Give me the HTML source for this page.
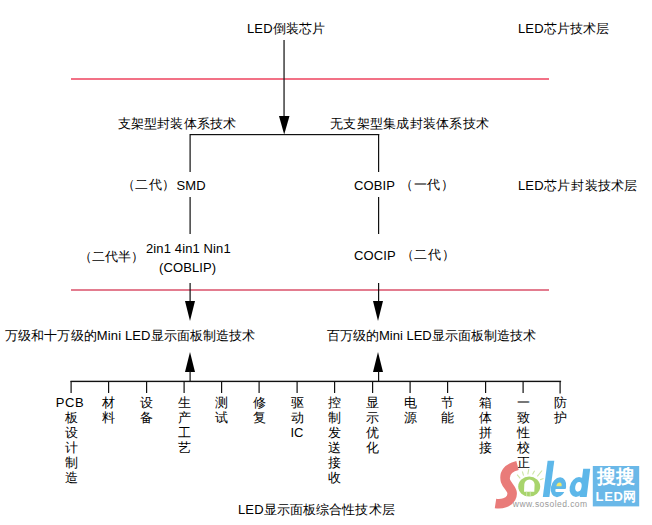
<!DOCTYPE html>
<html><head><meta charset="utf-8">
<style>
html,body{margin:0;padding:0;background:#fff;}
body{width:652px;height:525px;position:relative;overflow:hidden;font-family:"Liberation Sans",sans-serif;color:#000;}
.t{position:absolute;font-weight:500;font-size:13px;line-height:15px;white-space:nowrap;letter-spacing:0.12px;}
.v{position:absolute;font-weight:500;font-size:13px;line-height:15px;text-align:center;width:30px;}
svg{position:absolute;left:0;top:0;}
</style></head><body>
<svg width="652" height="525" viewBox="0 0 652 525">
  <!-- red lines -->
  <rect x="71" y="78.2" width="478" height="1.6" fill="#ef4f69"/>
  <rect x="71" y="289.2" width="478" height="1.6" fill="#dc5c74"/>
  <!-- top arrow -->
  <rect x="283.4" y="40" width="1.3" height="77" fill="#222"/>
  <polygon points="279,116 289.5,116 284.2,134.5" fill="#000"/>
  <!-- branch -->
  <rect x="190" y="134" width="189.2" height="1.2" fill="#111"/>
  <rect x="189.5" y="134" width="1.2" height="38" fill="#111"/>
  <rect x="378" y="134" width="1.2" height="38" fill="#111"/>
  <rect x="189.5" y="197" width="1.2" height="37" fill="#111"/>
  <rect x="378" y="197" width="1.2" height="37" fill="#111"/>
  <rect x="189.5" y="283" width="1.2" height="19" fill="#111"/>
  <rect x="378" y="283" width="1.2" height="19" fill="#111"/>
  <polygon points="185,301 195,301 190,321" fill="#000"/>
  <polygon points="373,301 383,301 378,321" fill="#000"/>
  <!-- up arrows -->
  <polygon points="185,372 195,372 190,352" fill="#000"/>
  <polygon points="373,372 383,372 378,352" fill="#000"/>
  <rect x="189.5" y="371" width="1.2" height="10" fill="#111"/>
  <rect x="378" y="371" width="1.2" height="10" fill="#111"/>
  <!-- bottom bus -->
  <rect x="70.5" y="380.7" width="490.6" height="1.4" fill="#111"/>
  <g fill="#111">
    <rect x="70.5" y="381" width="1.2" height="12"/>
    <rect x="108" y="381" width="1.2" height="12"/>
    <rect x="146" y="381" width="1.2" height="12"/>
    <rect x="183.5" y="381" width="1.2" height="12"/>
    <rect x="221" y="381" width="1.2" height="12"/>
    <rect x="258.5" y="381" width="1.2" height="12"/>
    <rect x="296.5" y="381" width="1.2" height="12"/>
    <rect x="334" y="381" width="1.2" height="12"/>
    <rect x="372" y="381" width="1.2" height="12"/>
    <rect x="409.5" y="381" width="1.2" height="12"/>
    <rect x="447" y="381" width="1.2" height="12"/>
    <rect x="485" y="381" width="1.2" height="12"/>
    <rect x="522.5" y="381" width="1.2" height="12"/>
    <rect x="559.5" y="381" width="1.2" height="12.5"/>
  </g>
</svg>
<div class="t" style="left:247px;top:21px;">LED倒装芯片</div>
<div class="t" style="left:518px;top:21px;">LED芯片技术层</div>
<div class="t" style="left:118px;top:116px;">支架型封装体系技术</div>
<div class="t" style="left:330px;top:116px;letter-spacing:0.25px;">无支架型集成封装体系技术</div>
<div class="t" style="left:124px;top:178px;"><span style="position:relative;left:-1.7px;top:-1px">（二代）</span>SMD</div>
<div class="t" style="left:354px;top:178px;">COBIP <span style="position:relative;left:1.6px;top:-1px;letter-spacing:0.6px">（一代）</span></div>
<div class="t" style="left:518px;top:178px;">LED芯片<span style="margin-left:1.5px">封装技术层</span></div>
<div class="t" style="left:79px;top:249px;">（二代半）</div>
<div class="t" style="left:146px;top:241px;">2in1 4in1 Nin1</div>
<div class="t" style="left:159px;top:260px;">(COBLIP)</div>
<div class="t" style="left:354px;top:248px;">COCIP <span style="position:relative;left:1.6px;top:-1px;letter-spacing:0.6px">（二代）</span></div>
<div class="t" style="left:5px;top:328px;">万级和十万级的Mini LED显示面板制造技术</div>
<div class="t" style="left:327px;top:328px;letter-spacing:0;">百万级的Mini LED显示面板制造技术</div>
<div class="t" style="left:238px;top:502px;">LED显示面板综合性技术层</div>

<div class="v" style="left:56px;top:395px;"><span style="position:relative;left:-1px;letter-spacing:0.6px">PCB</span><br>板<br>设<br>计<br>制<br>造</div>
<div class="v" style="left:93px;top:395px;">材<br>料</div>
<div class="v" style="left:131px;top:395px;">设<br>备</div>
<div class="v" style="left:169px;top:395px;">生<br>产<br>工<br>艺</div>
<div class="v" style="left:206px;top:395px;">测<br>试</div>
<div class="v" style="left:244px;top:395px;">修<br>复</div>
<div class="v" style="left:282px;top:395px;">驱<br>动<br>IC</div>
<div class="v" style="left:319px;top:395px;">控<br>制<br>发<br>送<br>接<br>收</div>
<div class="v" style="left:357px;top:395px;">显<br>示<br>优<br>化</div>
<div class="v" style="left:395px;top:395px;">电<br>源</div>
<div class="v" style="left:432px;top:395px;">节<br>能</div>
<div class="v" style="left:470px;top:395px;">箱<br>体<br>拼<br>接</div>
<div class="v" style="left:508px;top:395px;">一<br>致<br>性<br>校<br>正</div>
<div class="v" style="left:545px;top:395px;">防<br>护</div>

<svg width="652" height="525" viewBox="0 0 652 525" style="position:absolute;left:0;top:0">
  <path d="M517.5 465.5 C508 468 503.5 473 505.5 481 C507.5 487 515 490 511 498 C508.5 502.5 502 504.5 495.5 503.5" stroke="#e97b79" stroke-width="9.5" fill="none"/>
  <ellipse cx="529.2" cy="486.6" rx="11" ry="10" fill="#a8d46c"/>
  <path d="M524 491.7 L524.3 484.6 A5.15 5.15 0 0 1 534.6 484.6 L534.3 491.7 Z" fill="#fff"/>
  <rect x="526.3" y="491.5" width="0.8" height="4.8" fill="#d4eabc"/>
  <rect x="529.8" y="491.5" width="0.8" height="4.8" fill="#d4eabc"/>
  <g stroke="#cde6a6" stroke-width="1.1">
    <line x1="517.1" y1="474.6" x2="520.2" y2="478.4"/>
    <line x1="522.3" y1="471.5" x2="523.6" y2="475.6"/>
    <line x1="528.8" y1="469.1" x2="527.8" y2="474.3"/>
    <line x1="534.6" y1="470.8" x2="532.5" y2="474.6"/>
    <line x1="542.1" y1="470.5" x2="537.3" y2="476.3"/>
    <line x1="543.5" y1="478.4" x2="540.1" y2="479.8"/>
  </g>
  <polygon points="547.6,460.8 554.3,460.8 549.4,497 542.8,497" fill="#5db7e9"/>
  <g transform="translate(558.5,487.2) skewX(-9)">
    <ellipse cx="0" cy="0" rx="7.6" ry="10" fill="#5db7e9"/>
    <path d="M-2.3 -0.9 A2.5 3.6 0 0 1 2.9 -0.9 Z" fill="#f2e86a"/>
    <path d="M-2.6 1.7 L9 1.7 L9 4.7 L-1.2 4.7 Q-2.6 4.7 -2.6 3.2 Z" fill="#fff"/>
  </g>
  <polygon points="583.2,468.7 590.2,468.7 586.7,497 579.7,497" fill="#5db7e9"/>
  <g transform="translate(577.5,487) skewX(-9)">
    <ellipse cx="0" cy="0" rx="7.8" ry="10" fill="#5db7e9"/>
    <ellipse cx="0.9" cy="-0.2" rx="3.2" ry="4.9" fill="#fff"/>
  </g>
  <text x="512.8" y="507.2" font-family="Liberation Sans" font-size="8.5" fill="#999" letter-spacing="0.45">www.sosoled.com</text>
  <rect x="592.8" y="466" width="46.4" height="40.4" fill="#6ab8e8"/>
  <text x="616.3" y="483.2" text-anchor="middle" font-family="Liberation Sans" font-weight="bold" font-size="19" fill="#fff">搜搜</text>
  <text x="616.3" y="501" text-anchor="middle" font-family="Liberation Sans" font-weight="bold" font-size="13" fill="#fff" letter-spacing="0.6">LED网</text>
</svg>
</body></html>
